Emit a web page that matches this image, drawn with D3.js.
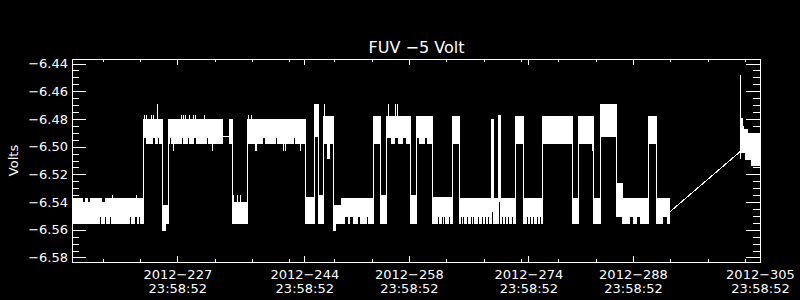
<!DOCTYPE html>
<html><head><meta charset="utf-8">
<script src="https://cdn.jsdelivr.net/npm/d3@7"></script>
<style>html,body{margin:0;padding:0;background:#000;}svg{display:block;}</style>
</head><body>
<svg id="c" width="800" height="300"></svg>
<script>
// ---------- text ----------
const chartTitle = "FUV \u22125 Volt";
const yAxisTitle = "Volts";

// ---------- axes (x in day-of-year 2012, y in volts) ----------
const xDomain = [212.905, 305.0];
const yDomain = [-6.58325, -6.43675];
const xMajorDays = [227, 244, 258, 274, 288, 305];
const xLabelDate = ["2012\u2212227", "2012\u2212244", "2012\u2212258", "2012\u2212274", "2012\u2212288", "2012\u2212305"];
const xLabelTime = ["23:58:52", "23:58:52", "23:58:52", "23:58:52", "23:58:52", "23:58:52"];
const xMinorDays = [217, 222, 232, 237, 242, 248, 253, 263, 268, 273, 278, 283, 293, 298, 303];
const yMajor = [-6.44, -6.46, -6.48, -6.50, -6.52, -6.54, -6.56, -6.58];
const yMinor = [-6.445, -6.45, -6.455, -6.465, -6.47, -6.475, -6.485, -6.49, -6.495,
                -6.505, -6.51, -6.515, -6.525, -6.53, -6.535, -6.545, -6.55, -6.555,
                -6.565, -6.57, -6.575];

// ---------- data: telemetry envelope blocks (start day, end day, max V, min V) ----------
const blockStart = [212.905, 222.37, 224.91, 225.80, 233.92, 234.28, 236.29, 244.10, 245.30, 245.88,
                    246.50, 247.88, 248.87, 253.24, 254.13, 254.94, 258.15, 259.00, 261.05, 263.73,
                    264.75, 268.95, 269.30, 269.97, 270.22, 272.21, 273.32, 275.78, 279.80, 280.68,
                    282.69, 283.58, 285.72, 286.49, 290.05, 291.08, 302.40, 302.55, 302.77, 302.99,
                    303.22, 303.80];
const blockEnd   = [222.37, 224.91, 225.80, 233.16, 234.28, 236.29, 244.10, 245.30, 245.88, 246.50,
                    247.88, 248.87, 253.24, 254.13, 254.94, 258.15, 259.00, 261.05, 263.73, 264.75,
                    268.95, 269.30, 269.97, 270.22, 272.21, 273.32, 275.78, 279.80, 280.68, 282.69,
                    283.58, 285.72, 286.49, 290.05, 291.08, 292.95, 302.55, 302.77, 302.99, 303.22,
                    303.80, 305.00];
const blockMax   = [-6.537, -6.480, -6.542, -6.480, -6.480, -6.540, -6.480, -6.536, -6.469, -6.535,
                    -6.478, -6.542, -6.537, -6.478, -6.535, -6.478, -6.535, -6.478, -6.536, -6.478,
                    -6.537, -6.480, -6.537, -6.477, -6.537, -6.478, -6.537, -6.478, -6.537, -6.478,
                    -6.537, -6.469, -6.526, -6.537, -6.478, -6.537, -6.479, -6.4853, -6.4876, -6.4876,
                    -6.4900, -6.4900];
const blockMin   = [-6.556, -6.498, -6.556, -6.498, -6.498, -6.556, -6.498, -6.556, -6.493, -6.556,
                    -6.498, -6.556, -6.556, -6.498, -6.556, -6.498, -6.556, -6.498, -6.556, -6.498,
                    -6.556, -6.547, -6.556, -6.540, -6.556, -6.498, -6.556, -6.498, -6.556, -6.498,
                    -6.556, -6.493, -6.551, -6.556, -6.498, -6.556, -6.5045, -6.5045, -6.5045, -6.5093,
                    -6.5093, -6.5141];

// extra excursions (start, end, max, min)
const extraStart = [224.98, 247.88, 247.00];
const extraEnd   = [225.45, 248.25, 247.44];
const extraMax   = [-6.556, -6.556, -6.498];
const extraMin   = [-6.561, -6.561, -6.509];

// single-sample spikes (day, max, min)
const spikeDay = [218.30, 221.51, 234.50, 234.95, 235.39,
                  222.54, 222.81, 223.48, 223.75, 227.50, 227.76, 228.03, 228.61, 229.14, 229.37, 230.57, 236.51, 236.83,
                  224.32, 246.68, 255.24, 256.13, 256.44,
                  226.47, 231.60, 237.40, 237.60, 241.19, 241.42, 243.43, 282.47,
                  302.32];
const spikeMax = [-6.535, -6.535, -6.535, -6.535, -6.535,
                  -6.477, -6.477, -6.477, -6.477, -6.477, -6.477, -6.477, -6.477, -6.477, -6.477, -6.477, -6.477, -6.477,
                  -6.469, -6.469, -6.469, -6.469, -6.469,
                  -6.498, -6.498, -6.498, -6.498, -6.498, -6.498, -6.498, -6.498,
                  -6.448];
const spikeMin = [-6.537, -6.537, -6.540, -6.540, -6.540,
                  -6.480, -6.480, -6.480, -6.480, -6.480, -6.480, -6.480, -6.480, -6.480, -6.480, -6.480, -6.480, -6.480,
                  -6.480, -6.478, -6.478, -6.478, -6.478,
                  -6.503, -6.503, -6.503, -6.503, -6.503, -6.503, -6.503, -6.503,
                  -6.509];

// straight connecting lines across data gaps (day0, v0, day1, v1)
const gapDay0 = [233.16, 292.95];
const gapVal0 = [-6.493, -6.547];
const gapDay1 = [233.92, 302.32];
const gapVal1 = [-6.493, -6.5037];

// dark gaps in the sample envelope (start, end, max, min)
const notchStart = [214.42, 215.09, 216.92, 216.60, 217.28, 217.95, 220.62, 221.40, 221.87,
                    222.58, 223.79, 224.40, 225.96, 227.60, 228.40, 229.28, 231.00,
                    249.45, 250.12, 251.23, 252.35, 238.5, 240.2, 242.6,
                    261.94, 262.39, 262.74, 263.33, 264.98, 265.29, 265.74, 266.28, 266.62, 267.29,
                    267.75, 268.19, 268.63, 270.42, 270.87, 271.31, 271.76, 273.77, 274.21, 274.65,
                    275.19, 275.55, 287.60, 288.50, 292.06,
                    255.11, 256.14, 257.26, 259.05, 260.16];
const notchEnd   = [214.65, 215.31, 217.32, 216.75, 217.42, 218.10, 220.80, 221.55, 222.00,
                    222.81, 224.02, 224.59, 226.15, 227.75, 228.55, 229.45, 231.15,
                    249.90, 250.48, 251.46, 252.57, 238.7, 240.4, 242.8,
                    262.07, 262.52, 262.87, 263.46, 265.11, 265.42, 265.87, 266.41, 266.75, 267.42,
                    267.88, 268.32, 268.76, 270.55, 271.00, 271.44, 271.89, 273.90, 274.34, 274.78,
                    275.32, 275.68, 288.00, 288.90, 292.50,
                    255.57, 256.59, 257.62, 259.35, 260.47];
const notchMax   = [-6.537, -6.537, -6.537, -6.551, -6.551, -6.551, -6.551, -6.551, -6.551,
                    -6.4935, -6.4935, -6.4935, -6.4935, -6.4935, -6.4935, -6.4935, -6.4935,
                    -6.551, -6.551, -6.551, -6.551, -6.4935, -6.4935, -6.4935,
                    -6.551, -6.551, -6.551, -6.551, -6.551, -6.551, -6.551, -6.551, -6.551, -6.551,
                    -6.551, -6.551, -6.551, -6.551, -6.551, -6.551, -6.551, -6.551, -6.551, -6.551,
                    -6.551, -6.551, -6.551, -6.551, -6.551,
                    -6.4935, -6.4935, -6.4935, -6.4935, -6.4935];
const notchMin   = [-6.540, -6.540, -6.540, -6.5565, -6.5565, -6.5565, -6.5565, -6.5565, -6.5565,
                    -6.4985, -6.4985, -6.4985, -6.4985, -6.4985, -6.4985, -6.4985, -6.4985,
                    -6.5565, -6.5565, -6.5565, -6.5565, -6.4985, -6.4985, -6.4985,
                    -6.5565, -6.5565, -6.5565, -6.5565, -6.5565, -6.5565, -6.5565, -6.5565, -6.5565, -6.5565,
                    -6.5565, -6.5565, -6.5565, -6.5565, -6.5565, -6.5565, -6.5565, -6.5565, -6.5565, -6.5565,
                    -6.5565, -6.5565, -6.5565, -6.5565, -6.5565,
                    -6.4985, -6.4985, -6.4985, -6.4985, -6.4985];

// ---------- drawing ----------
const svg = d3.select("#c");
svg.append("rect").attr("width", 800).attr("height", 300).attr("fill", "#000");
const L = 72, R = 760, T = 59, B = 262;
const x = d3.scaleLinear().domain(xDomain).range([L, R]);
const y = d3.scaleLinear().domain(yDomain).range([B, T]);
const FONT = "'DejaVu Sans', sans-serif";

const data = svg.append("g").attr("shape-rendering", "crispEdges");
const blocks = d3.range(blockStart.length).map(i => ({s: blockStart[i], e: blockEnd[i], hi: blockMax[i], lo: blockMin[i]}));
data.selectAll("rect.blk").data(blocks).join("rect").attr("class", "blk")
  .attr("x", d => x(d.s)).attr("width", d => Math.max(1, x(d.e) - x(d.s)))
  .attr("y", d => y(d.hi)).attr("height", d => Math.max(1, y(d.lo) - y(d.hi)))
  .attr("fill", "#fff");

const extras = d3.range(extraStart.length).map(i => ({s: extraStart[i], e: extraEnd[i], hi: extraMax[i], lo: extraMin[i]}));
data.selectAll("rect.ext").data(extras).join("rect").attr("class", "ext")
  .attr("x", d => x(d.s)).attr("width", d => Math.max(1, x(d.e) - x(d.s)))
  .attr("y", d => y(d.hi)).attr("height", d => Math.max(1, y(d.lo) - y(d.hi)))
  .attr("fill", "#fff");

// dark gaps first, so that transitions and spikes stay visible on top
const notches = d3.range(notchStart.length).map(i => ({s: notchStart[i], e: notchEnd[i], hi: notchMax[i], lo: notchMin[i]}));
data.selectAll("rect.nt").data(notches).join("rect").attr("class", "nt")
  .attr("x", d => x(d.s)).attr("width", d => Math.max(1, x(d.e) - x(d.s)))
  .attr("y", d => y(d.hi)).attr("height", d => Math.max(1, y(d.lo) - y(d.hi)))
  .attr("fill", "#000");

// vertical transitions between adjacent blocks
const trans = [];
for (let i = 0; i < blocks.length - 1; i++) {
  if (Math.abs(blocks[i].e - blocks[i + 1].s) < 0.005) {
    trans.push({d: blocks[i].e, hi: Math.max(blocks[i].hi, blocks[i + 1].hi), lo: Math.min(blocks[i].lo, blocks[i + 1].lo)});
  }
}
data.selectAll("line.tr").data(trans).join("line").attr("class", "tr")
  .attr("x1", d => Math.round(x(d.d)) + 0.5).attr("x2", d => Math.round(x(d.d)) + 0.5)
  .attr("y1", d => y(d.hi)).attr("y2", d => y(d.lo))
  .attr("stroke", "#fff").attr("stroke-width", 1);

const spikes = d3.range(spikeDay.length).map(i => ({d: spikeDay[i], hi: spikeMax[i], lo: spikeMin[i]}));
data.selectAll("line.sp").data(spikes).join("line").attr("class", "sp")
  .attr("x1", d => Math.round(x(d.d)) + 0.5).attr("x2", d => Math.round(x(d.d)) + 0.5)
  .attr("y1", d => y(d.hi)).attr("y2", d => y(d.lo))
  .attr("stroke", "#fff").attr("stroke-width", 1);

const gaps = d3.range(gapDay0.length).map(i => [[gapDay0[i], gapVal0[i]], [gapDay1[i], gapVal1[i]]]);
const lineGen = d3.line().x(d => x(d[0])).y(d => y(d[1]));
svg.append("g").selectAll("path").data(gaps).join("path")
  .attr("d", lineGen).attr("fill", "none").attr("stroke", "#fff").attr("stroke-width", 1)
  .attr("shape-rendering", "crispEdges");

// ---------- axes ----------
const ax = svg.append("g").attr("shape-rendering", "crispEdges");
ax.append("rect").attr("x", L + 0.5).attr("y", T + 0.5).attr("width", R - L).attr("height", B - T)
  .attr("fill", "none").attr("stroke", "#fff");

function styleAxis(g) {
  g.select(".domain").remove();
  g.selectAll(".tick line").attr("stroke", "#fff");
  g.selectAll(".tick text").attr("fill", "#fff").attr("font-family", FONT).attr("font-size", 13);
}
ax.append("g").attr("transform", `translate(0,${B})`).call(d3.axisBottom(x).tickValues(xMajorDays).tickSize(-6).tickFormat("")).call(styleAxis);
ax.append("g").attr("transform", `translate(0,${B})`).call(d3.axisBottom(x).tickValues(xMinorDays).tickSize(-3).tickFormat("")).call(styleAxis);
ax.append("g").attr("transform", `translate(0,${T})`).call(d3.axisTop(x).tickValues(xMajorDays).tickSize(-6).tickFormat("")).call(styleAxis);
ax.append("g").attr("transform", `translate(0,${T})`).call(d3.axisTop(x).tickValues(xMinorDays).tickSize(-3).tickFormat("")).call(styleAxis);
ax.append("g").attr("transform", `translate(${L},0)`)
  .call(d3.axisLeft(y).tickValues(yMajor).tickSize(-14).tickPadding(4).tickFormat(d => "\u2212" + Math.abs(d).toFixed(2)))
  .call(styleAxis);
ax.append("g").attr("transform", `translate(${L},0)`).call(d3.axisLeft(y).tickValues(yMinor).tickSize(-7).tickFormat("")).call(styleAxis);
ax.append("g").attr("transform", `translate(${R},0)`).call(d3.axisRight(y).tickValues(yMajor).tickSize(-14).tickFormat("")).call(styleAxis);
ax.append("g").attr("transform", `translate(${R},0)`).call(d3.axisRight(y).tickValues(yMinor).tickSize(-7).tickFormat("")).call(styleAxis);

// x tick labels (two lines)
const xl = svg.append("g").attr("fill", "#fff").attr("font-family", FONT).attr("font-size", 13).attr("text-anchor", "middle");
xl.selectAll("text.d").data(xMajorDays).join("text").attr("class", "d")
  .attr("x", d => x(d) + 0.5).attr("y", 278.5).text((d, i) => xLabelDate[i]);
xl.selectAll("text.t").data(xMajorDays).join("text").attr("class", "t")
  .attr("x", d => x(d) + 0.5).attr("y", 292.5).text((d, i) => xLabelTime[i]);

// titles
svg.append("text").attr("x", (L + R) / 2 + 0.5).attr("y", 52.5).attr("text-anchor", "middle")
  .attr("fill", "#fff").attr("font-family", FONT).attr("font-size", 16).text(chartTitle);
svg.append("text").attr("transform", `translate(17.5,${(T + B) / 2}) rotate(-90)`).attr("text-anchor", "middle")
  .attr("fill", "#fff").attr("font-family", FONT).attr("font-size", 13).text(yAxisTitle);
</script>
</body></html>
